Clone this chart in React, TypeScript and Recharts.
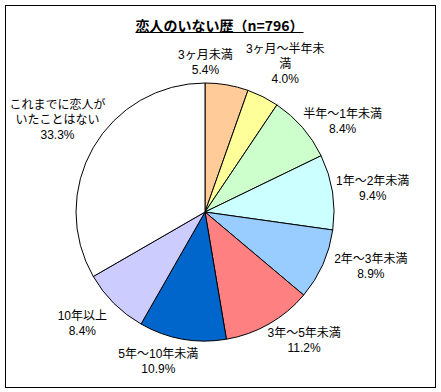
import React from "react";
import { PieChart, Pie, Cell } from "recharts";

const categories = [
  "3ヶ月未満",
  "3ヶ月〜半年未\n満",
  "半年〜1年未満",
  "1年〜2年未満",
  "2年〜3年未満",
  "3年〜5年未満",
  "5年〜10年未満",
  "10年以上",
  "これまでに恋人が\nいたことはない",
];
const values = [5.4, 4.0, 8.4, 9.4, 8.9, 11.2, 10.9, 8.4, 33.3];
const colors = [
  "#FFCC99",
  "#FFFF99",
  "#CCFFCC",
  "#CCFFFF",
  "#99CCFF",
  "#FF8080",
  "#0066CC",
  "#CCCCFF",
  "#FFFFFF",
];
const title = "恋人のいない歴（n=796）";

// label placement tweaks (style only)
const labelNudge: [number, number][] = [
  [-27, -2],
  [2, -7],
  [6, 8],
  [-2, 0],
  [9, -7],
  [14, -2],
  [-16, 2],
  [-10, 5],
  [11, -13],
];

const data = categories.map((c, i) => ({ name: c, value: values[i] }));

const RAD = Math.PI / 180;
const FS = 12;
const LH = 15;
const FONT = "'Liberation Sans', 'Noto Sans CJK JP', sans-serif";
const TITLE_FONT = "'Noto Sans CJK JP', sans-serif";

function textWidth(s: string) {
  let w = 0;
  for (const ch of s) w += ch.charCodeAt(0) < 256 ? FS * 0.56 : FS;
  return w;
}

function renderLabel(props: any) {
  const { cx, cy, midAngle, outerRadius, index } = props;
  const lines = [...categories[index].split("\n"), values[index].toFixed(1) + "%"];
  const w = Math.max(...lines.map(textWidth));
  const h = lines.length * LH;
  const cos = Math.cos(-midAngle * RAD);
  const sin = Math.sin(-midAngle * RAD);
  const r = outerRadius + 6;
  const ax = cx + r * cos;
  const ay = cy + r * sin;
  const bx = ax + (cos * w) / 2 + labelNudge[index][0];
  const by = ay + (sin * h) / 2 + labelNudge[index][1];
  return (
    <g key={"lbl" + index}>
      {lines.map((l, i) => (
        <text
          key={i}
          x={bx}
          y={by - h / 2 + LH * (i + 0.5)}
          dominantBaseline="central"
          textAnchor="middle"
          fontSize={FS}
          fontFamily={FONT}
          fill="#000"
        >
          {l}
        </text>
      ))}
    </g>
  );
}

export default function App() {
  return (
    <div style={{ position: "absolute", left: 0, top: 0, width: 441, height: 392, background: "#fff" }}>
      <div
        style={{
          position: "absolute",
          left: 5,
          top: 5,
          width: 429,
          height: 381,
          border: "1px solid #000",
        }}
      />
      <div
        style={{
          position: "absolute",
          left: 0,
          top: 15,
          width: 439,
          textAlign: "center",
          fontFamily: TITLE_FONT,
          fontWeight: "bold",
          fontSize: 14,
          lineHeight: "20px",
          textDecoration: "underline",
        }}
      >
        {title}
      </div>
      <div style={{ position: "absolute", left: 0, top: 0 }}>
        <PieChart width={441} height={392} margin={{ top: 0, right: 0, bottom: 0, left: 0 }}>
          <Pie
            data={data}
            dataKey="value"
            nameKey="name"
            cx={205}
            cy={212}
            outerRadius={129}
            startAngle={90}
            endAngle={-270}
            stroke="#000"
            strokeWidth={1}
            label={renderLabel}
            labelLine={false}
            isAnimationActive={false}
          >
            {data.map((d, i) => (
              <Cell key={i} fill={colors[i]} />
            ))}
          </Pie>
        </PieChart>
      </div>
    </div>
  );
}
